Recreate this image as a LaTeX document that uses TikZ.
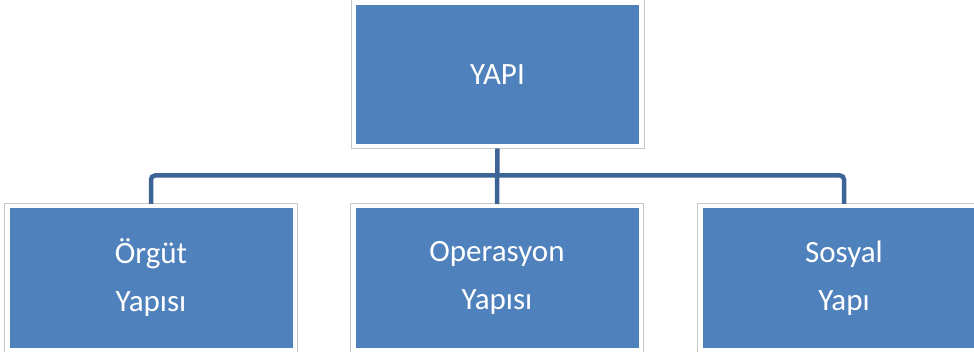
\documentclass[tikz,border=0pt]{standalone}
\usepackage{fontspec}
\setmainfont{Carlito}
\definecolor{boxblue}{RGB}{79,129,189}
\definecolor{linkblue}{RGB}{61,100,150}
\tikzset{
  unit/.style={fill=boxblue, draw=white, line width=4.5pt,
    preaction={draw=black!22, line width=6.5pt},
    minimum width=287.5pt, minimum height=143.5pt, inner sep=0pt,
    text=white, align=center, font=\fontsize{31}{48}\selectfont},
  link/.style={draw=linkblue, line width=4.5pt, rounded corners=4pt}
}
\begin{document}
\begin{tikzpicture}[x=1pt,y=1pt]
\useasboundingbox (0,0) rectangle (974,351);
\node[unit] (yapi) at (497.5,276.5) {YAPI};
\node[unit] (orgut) at (151,73) {Örgüt\\Yapısı};
\node[unit] (operasyon) at (497,73) {Operasyon\\Yapısı};
\node[unit] (sosyal) at (844,73) {Sosyal\\Yapı};
\coordinate (bus) at ([yshift=-27pt]yapi.south);
\draw[link] (yapi.south) -- (operasyon.north);
\draw[link] (orgut.north) |- (bus) -| (sosyal.north);
\end{tikzpicture}
\end{document}
